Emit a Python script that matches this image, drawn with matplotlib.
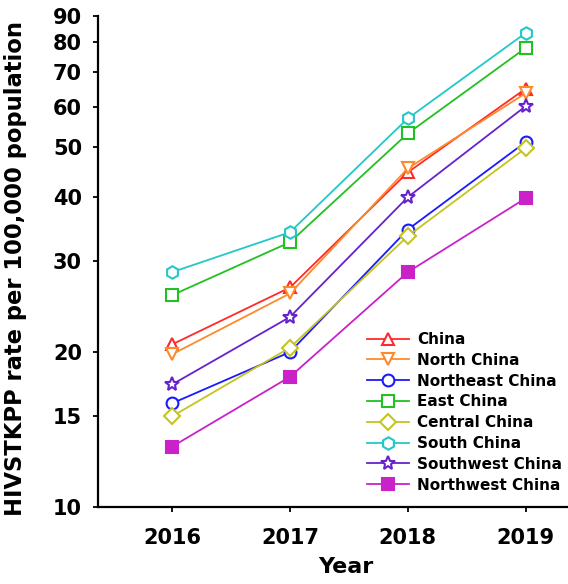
import matplotlib
matplotlib.use("Agg")
import matplotlib.pyplot as plt
from matplotlib.ticker import FixedLocator, NullLocator, FixedFormatter

plt.rcParams['font.family'] = ['DejaVu Sans']
plt.rcParams['font.weight'] = 'bold'

years = [2016, 2017, 2018, 2019]
regions = ["China", "North China", "Northeast China", "East China",
           "Central China", "South China", "Southwest China", "Northwest China"]

china = [20.7, 26.7, 44.7, 65.0]
north = [19.8, 26.0, 45.5, 63.7]
northeast = [15.9, 20.0, 34.6, 51.2]
east = [25.8, 32.7, 53.2, 78.0]
central = [15.0, 20.4, 33.6, 49.8]
south = [28.6, 34.2, 56.9, 83.4]
southwest = [17.3, 23.4, 40.0, 60.1]
northwest = [13.1, 17.9, 28.6, 39.8]

series = [china, north, northeast, east, central, south, southwest, northwest]
colors = ["#ff2a2a", "#ff8a2a", "#1a1aff", "#22c022", "#c4c41e",
          "#22c8c8", "#6622cc", "#c822c8"]
markers = ["^", "v", "o", "s", "D", "h", "*", "s"]
sizes = [8.5, 8.5, 8.5, 8, 8, 9, 10.5, 8]

y_ticks = [10, 15, 20, 30, 40, 50, 60, 70, 80, 90]

fig = plt.figure(figsize=(5.68, 5.84), dpi=100)
ax = fig.add_axes([0.1725, 0.132, 0.8275, 0.8406])

for vals, name, c, m, ms in zip(series, regions, colors, markers, sizes):
    face = c if name == "Northwest China" else "white"
    ax.plot(years, vals, color=c, lw=1.3, marker=m, ms=ms,
            mfc=face, mec=c, mew=1.5, label=name)

ax.set_yscale("log")
ax.set_ylim(10, 90)
ax.set_xlim(2015.37, 2019.36)
ax.yaxis.set_major_locator(FixedLocator(y_ticks))
ax.yaxis.set_major_formatter(FixedFormatter([str(t) for t in y_ticks]))
ax.yaxis.set_minor_locator(NullLocator())
ax.set_xticks(years)
ax.set_xticklabels([str(y) for y in years])

for s in ["top", "right"]:
    ax.spines[s].set_visible(False)
for s in ["left", "bottom"]:
    ax.spines[s].set_linewidth(1.6)

ax.tick_params(axis="both", direction="out", width=1.3, length=3.5,
               labelsize=15)
ax.tick_params(axis="x", pad=12)
ax.tick_params(axis="y", pad=8)

ax.set_xlabel("Year", fontsize=16, fontweight="bold")
ax.xaxis.set_label_coords(0.528, -0.102)
ax.set_ylabel("HIVSTKPP rate per 100,000 population", fontsize=16.3,
              fontweight="bold")
ax.yaxis.set_label_coords(-0.152, 0.485)

leg = ax.legend(loc="upper left", bbox_to_anchor=(367 / 568, 1 - 332 / 584),
                bbox_transform=fig.transFigure, frameon=False,
                prop={"weight": "bold", "size": 11}, handlelength=2.75,
                labelspacing=0.38, handletextpad=0.55, borderpad=0,
                borderaxespad=0)

fig.savefig("out.png", dpi=100)
